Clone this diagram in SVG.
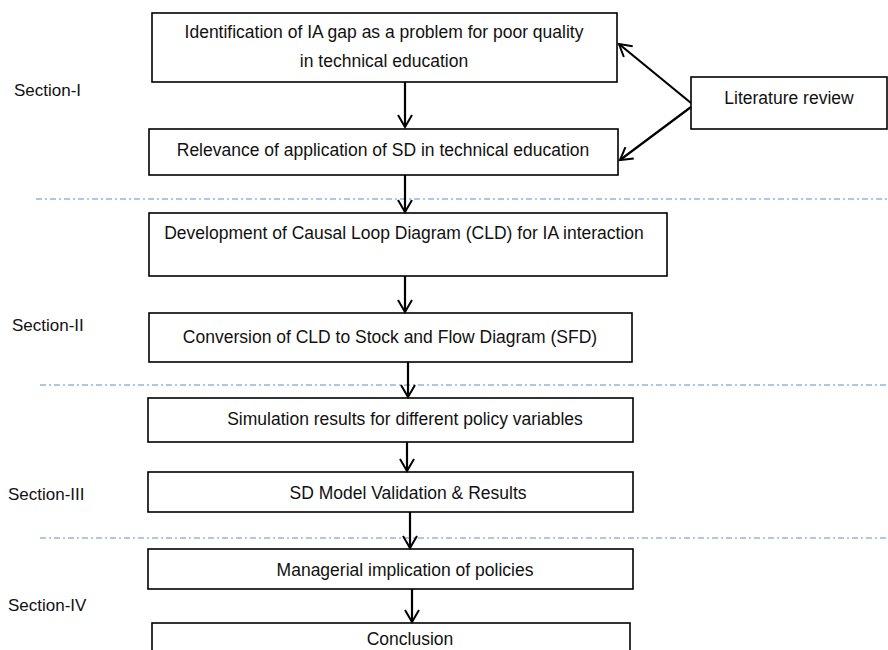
<svg xmlns="http://www.w3.org/2000/svg" width="888" height="650" viewBox="0 0 888 650">
<defs>
<marker id="ah" markerWidth="16" markerHeight="16" refX="14" refY="8" orient="auto" markerUnits="userSpaceOnUse">
<path d="M2,1 L14,8 L2,15" fill="none" stroke="#000" stroke-width="2"/>
</marker>
<style>
.box{fill:#fff;stroke:#000;stroke-width:1.6}
.t{font-family:"Liberation Sans",Arial,sans-serif;font-size:17.5px;fill:#111;text-anchor:middle}
.s{font-family:"Liberation Sans",Arial,sans-serif;font-size:17px;fill:#111}
.c{stroke:#000;stroke-width:2.2;fill:none;marker-end:url(#ah)}
.d{stroke:#5b8fd0;stroke-width:1.2;stroke-dasharray:6,3,2,3;fill:none}
</style>
</defs>
<g id="dividers">
<line class="d" x1="36" y1="199" x2="888" y2="199"/>
<line class="d" x1="40" y1="385" x2="888" y2="385"/>
<line class="d" x1="40" y1="538" x2="888" y2="538"/>
</g>
<g id="sections">
<text class="s" x="14" y="96">Section-I</text>
<text class="s" x="12" y="331">Section-II</text>
<text class="s" x="8" y="500">Section-III</text>
<text class="s" x="8" y="611">Section-IV</text>
</g>
<g id="n1"><rect class="box" x="152" y="13" width="465" height="69"/>
<text class="t" x="384" y="38">Identification of IA gap as a problem for poor quality</text>
<text class="t" x="384" y="67">in technical education</text></g>
<g id="n2"><rect class="box" x="149" y="129" width="469" height="46"/>
<text class="t" x="383" y="156">Relevance of application of SD in technical education</text></g>
<g id="lit"><rect class="box" x="691" y="77" width="196" height="52"/>
<text class="t" x="789" y="104">Literature review</text></g>
<g id="n3"><rect class="box" x="149" y="213" width="518" height="63"/>
<text class="t" x="404" y="239">Development of Causal Loop Diagram (CLD) for IA interaction</text></g>
<g id="n4"><rect class="box" x="149" y="313" width="483" height="49"/>
<text class="t" x="390" y="343">Conversion of CLD to Stock and Flow Diagram (SFD)</text></g>
<g id="n5"><rect class="box" x="148" y="398" width="485" height="44"/>
<text class="t" x="405" y="425">Simulation results for different policy variables</text></g>
<g id="n6"><rect class="box" x="148" y="472" width="485" height="40"/>
<text class="t" x="408" y="499">SD Model Validation &amp; Results</text></g>
<g id="n7"><rect class="box" x="148" y="549" width="485" height="40"/>
<text class="t" x="405" y="576">Managerial implication of policies</text></g>
<g id="n8"><rect class="box" x="152" y="623" width="478" height="40"/>
<text class="t" x="410" y="645">Conclusion</text></g>
<g id="connectors">
<line class="c" x1="405" y1="82" x2="405" y2="127"/>
<line class="c" x1="405" y1="175" x2="405" y2="212"/>
<line class="c" x1="405" y1="276" x2="405" y2="312"/>
<line class="c" x1="408" y1="362" x2="408" y2="397"/>
<line class="c" x1="407" y1="442" x2="407" y2="471"/>
<line class="c" x1="410" y1="512" x2="410" y2="548"/>
<line class="c" x1="412" y1="589" x2="412" y2="622"/>
<line class="c" x1="691" y1="103" x2="619" y2="44"/>
<line class="c" x1="691" y1="107" x2="620" y2="160"/>
</g>
</svg>
